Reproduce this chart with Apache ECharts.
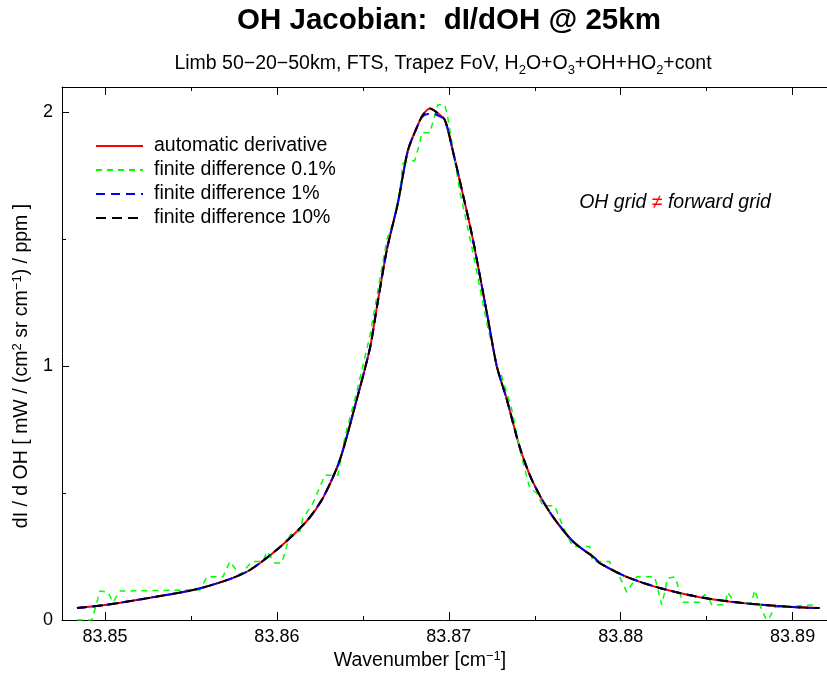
<!DOCTYPE html>
<html>
<head>
<meta charset="utf-8">
<script src="https://cdn.jsdelivr.net/npm/echarts@6/dist/echarts.min.js"></script>
<style>
  html, body { margin: 0; padding: 0; background: #fff; }
  #chart { width: 827px; height: 673px; }
</style>
</head>
<body>
<div id="chart"></div>
<script>
var FONT = '"Liberation Sans", Arial, Helvetica, sans-serif';

// wavenumber grid of the smooth curves [cm-1]
var wnSmooth = [83.84837, 83.85, 83.85221, 83.85512, 83.85709, 83.85843, 83.86017, 83.86174,
  83.86267, 83.86366, 83.86465, 83.86541, 83.86581, 83.8664, 83.86703, 83.86762, 83.8682,
  83.86849, 83.8689, 83.8693, 83.86977, 83.87023, 83.87081, 83.8714, 83.87227, 83.87279,
  83.87337, 83.87413, 83.87488, 83.87587, 83.87721, 83.87849, 83.87878, 83.88035, 83.88227,
  83.88459, 83.88709, 83.89, 83.89157];
var autoDeriv = [0.047, 0.059, 0.083, 0.118, 0.157, 0.197, 0.287, 0.39, 0.48, 0.63, 0.87, 1.07,
  1.23, 1.46, 1.64, 1.85, 1.95, 1.99, 2.015, 2.0, 1.97, 1.85, 1.68, 1.50, 1.19, 1.0, 0.87, 0.68,
  0.545, 0.425, 0.31, 0.244, 0.224, 0.17, 0.126, 0.09, 0.067, 0.051, 0.047];
var fd1 = [0.047, 0.059, 0.083, 0.118, 0.157, 0.197, 0.287, 0.39, 0.48, 0.63, 0.87, 1.07,
  1.23, 1.46, 1.64, 1.85, 1.95, 1.985, 1.995, 1.99, 1.97, 1.85, 1.68, 1.50, 1.19, 1.0, 0.87, 0.68,
  0.545, 0.425, 0.31, 0.244, 0.224, 0.17, 0.126, 0.09, 0.067, 0.051, 0.047];
var fd10 = [0.047, 0.059, 0.083, 0.118, 0.157, 0.197, 0.287, 0.39, 0.48, 0.63, 0.87, 1.07,
  1.23, 1.46, 1.64, 1.85, 1.95, 1.99, 2.015, 2.0, 1.97, 1.85, 1.68, 1.50, 1.19, 1.0, 0.87, 0.68,
  0.545, 0.425, 0.31, 0.244, 0.224, 0.17, 0.126, 0.09, 0.067, 0.051, 0.047];

// finite difference 0.1% (noisy, stepwise)
var wnFd01 = [83.84837, 83.84924, 83.84971, 83.85017, 83.85047, 83.85087, 83.85494, 83.85552,
  83.85593, 83.85686, 83.85727, 83.85785, 83.85855, 83.85919, 83.85942, 83.85988, 83.86029,
  83.86076, 83.86134, 83.86151, 83.86209, 83.86279, 83.86355, 83.86395, 83.86465, 83.86541,
  83.8664, 83.86674, 83.86715, 83.86733, 83.86802, 83.86831, 83.86843, 83.8689, 83.86936,
  83.86977, 83.86994, 83.87023, 83.87064, 83.8714, 83.87227, 83.87285, 83.87308, 83.87366,
  83.87413, 83.87471, 83.87512, 83.87547, 83.87616, 83.87663, 83.87721, 83.8782, 83.87837,
  83.87936, 83.87953, 83.87994, 83.88035, 83.88064, 83.88093, 83.88198, 83.88238, 83.88256,
  83.88273, 83.88314, 83.88326, 83.8836, 83.88459, 83.88488, 83.88517, 83.88529, 83.88605,
  83.88622, 83.88651, 83.8868, 83.88762, 83.88779, 83.8882, 83.88849, 83.88866, 83.88895, 83.8914];
var fd01 = [0.0, 0.0, 0.114, 0.11, 0.07, 0.114, 0.118, 0.118, 0.17, 0.17, 0.23, 0.177, 0.23, 0.23,
  0.27, 0.225, 0.225, 0.335, 0.35, 0.40, 0.46, 0.57, 0.57, 0.72, 0.90, 1.12, 1.50, 1.56, 1.69,
  1.80, 1.81, 1.88, 1.92, 1.92, 2.03, 2.03, 1.98, 1.86, 1.69, 1.45, 1.15, 0.99, 0.96, 0.83, 0.67,
  0.52, 0.50, 0.45, 0.45, 0.37, 0.29, 0.29, 0.23, 0.23, 0.20, 0.17, 0.11, 0.14, 0.17, 0.17, 0.06,
  0.11, 0.165, 0.17, 0.15, 0.07, 0.07, 0.10, 0.08, 0.06, 0.06, 0.11, 0.08, 0.067, 0.067, 0.118,
  0.04, 0.0, 0.01, 0.05, 0.06];

var seriesNames = ['automatic derivative', 'finite difference 0.1%', 'finite difference 1%', 'finite difference 10%'];
var xMajor = [83.85, 83.86, 83.87, 83.88, 83.89];
var xMinor = [83.855, 83.865, 83.875, 83.885];
var xMin = 83.8475, xMax = 83.892;

function pairs(xs, ys) {
  var out = [];
  for (var i = 0; i < xs.length; i++) out.push([xs[i], ys[i]]);
  return out;
}

function tickAxis(pos, vals, len, withLine) {
  return {
    type: 'value', position: pos, min: xMin, max: xMax,
    axisLine: { show: withLine, onZero: false, lineStyle: { color: '#000', width: 1 } },
    axisTick: { show: true, inside: true, length: len, customValues: vals, lineStyle: { color: '#000', width: 1 } },
    axisLabel: { show: false },
    splitLine: { show: false }
  };
}

var bottomAxis = tickAxis('bottom', xMajor, 8, true);
bottomAxis.axisLabel = {
  show: true, customValues: xMajor, margin: 8,
  fontSize: 18, fontFamily: FONT, color: '#000',
  formatter: function (v) { return v.toFixed(2); }
};

function line(name, xs, ys, color, width, dash, smooth) {
  return {
    name: name, type: 'line', xAxisIndex: 0, yAxisIndex: 0,
    data: pairs(xs, ys), symbol: 'none', showSymbol: false, smooth: smooth,
    lineStyle: { color: color, width: width, type: dash },
    itemStyle: { color: color }
  };
}

var chart = echarts.init(document.getElementById('chart'));
chart.setOption({
  animation: false,
  backgroundColor: '#fff',
  grid: { left: 62, right: 0, top: 87, bottom: 53 },
  xAxis: [
    bottomAxis,
    tickAxis('bottom', xMinor, 4, false),
    tickAxis('top', xMajor, 8, true),
    tickAxis('top', xMinor, 4, false)
  ],
  yAxis: {
    type: 'value', min: 0, max: 2.1, interval: 1,
    axisLine: { show: true, onZero: false, lineStyle: { color: '#000', width: 1 } },
    axisTick: { show: true, inside: true, length: 7, lineStyle: { color: '#000' } },
    minorTick: { show: true, splitNumber: 2, length: 4, lineStyle: { color: '#000' } },
    axisLabel: { fontSize: 18, fontFamily: FONT, color: '#000', margin: 9, showMaxLabel: false },
    splitLine: { show: false },
    minorSplitLine: { show: false }
  },
  legend: {
    orient: 'vertical', left: 90, top: 131,
    itemWidth: 47, itemHeight: 14, itemGap: 4,
    data: seriesNames,
    itemStyle: { opacity: 0 },
    textStyle: { fontSize: 19.5, fontFamily: FONT, color: '#000', lineHeight: 20, padding: [0, 0, 0, 6] }
  },
  graphic: [
    {
      type: 'text', x: 449, y: 21,
      style: { text: 'OH Jacobian:  dI/dOH @ 25km', fill: '#000', textAlign: 'center', textVerticalAlign: 'middle',
        font: 'bold 29.5px ' + FONT }
    },
    {
      type: 'text', x: 443, y: 64,
      style: {
        text: 'Limb 50\u221220\u221250km, FTS, Trapez FoV, H{s|2}O+O{s|3}+OH+HO{s|2}+cont',
        fill: '#000', textAlign: 'center', textVerticalAlign: 'middle',
        fontSize: 19.5, fontFamily: FONT, lineHeight: 26,
        rich: { s: { fontSize: 13, fontFamily: FONT, verticalAlign: 'bottom', fill: '#000' } }
      }
    },
    {
      type: 'text', x: 22, y: 366, rotation: Math.PI / 2,
      style: {
        text: 'dI / d OH [ mW / (cm{p|2} sr cm{p|\u22121}) / ppm ]',
        fill: '#000', textAlign: 'center', textVerticalAlign: 'middle',
        fontSize: 19.5, fontFamily: FONT, lineHeight: 22,
        rich: { p: { fontSize: 13, fontFamily: FONT, verticalAlign: 'top', fill: '#000' } }
      }
    },
    {
      type: 'text', x: 420, y: 661,
      style: {
        text: 'Wavenumber [cm{p|\u22121}]',
        fill: '#000', textAlign: 'center', textVerticalAlign: 'middle',
        fontSize: 19.5, fontFamily: FONT, lineHeight: 22,
        rich: { p: { fontSize: 13, fontFamily: FONT, verticalAlign: 'top', fill: '#000' } }
      }
    },
    {
      type: 'text', x: 675, y: 203,
      style: {
        text: 'OH grid {r|\u2260} forward grid',
        fill: '#000', textAlign: 'center', textVerticalAlign: 'middle',
        fontSize: 19.5, fontFamily: FONT, fontStyle: 'italic',
        rich: { r: { fontSize: 19.5, fontFamily: FONT, fontStyle: 'italic', fill: '#ff0000' } }
      }
    }
  ],
  series: [
    line(seriesNames[0], wnSmooth, autoDeriv, '#ff0000', 2, 'solid', 0.25),
    line(seriesNames[1], wnFd01, fd01, '#00ff00', 1.5, [6, 5], false),
    line(seriesNames[2], wnSmooth, fd1, '#0000ff', 2, [9, 6], 0.25),
    line(seriesNames[3], wnSmooth, fd10, '#000000', 2, [10, 6], 0.25)
  ]
});
</script>
</body>
</html>
